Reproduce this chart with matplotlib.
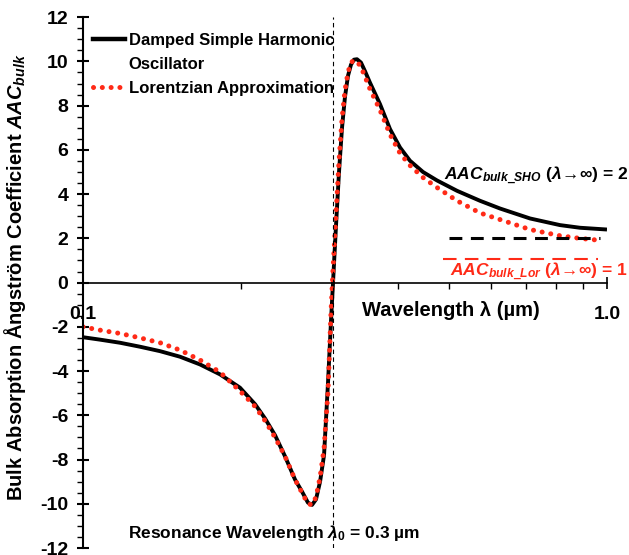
import matplotlib
matplotlib.use("Agg")
import matplotlib.pyplot as plt
from matplotlib.lines import Line2D
from matplotlib.ticker import FixedLocator, FixedFormatter, MultipleLocator, NullFormatter

plt.rcParams['font.family'] = ['Liberation Sans', 'DejaVu Sans']
plt.rcParams['font.weight'] = 'bold'
plt.rcParams['axes.labelweight'] = 'bold'
plt.rcParams['mathtext.fontset'] = 'custom'
plt.rcParams['mathtext.it'] = 'Liberation Sans:bold:italic'
plt.rcParams['mathtext.rm'] = 'Liberation Sans:bold'
plt.rcParams['mathtext.bf'] = 'Liberation Sans:bold'

# damped simple harmonic oscillator
lam_sho = [0.1000, 0.1078, 0.1177, 0.1285, 0.1403, 0.1531, 0.1672, 0.1826, 0.1993, 0.2130,
           0.2226, 0.2325, 0.2429, 0.2538, 0.2618, 0.2687, 0.2736, 0.2784, 0.2834, 0.2884,
           0.2935, 0.2974, 0.3000, 0.3040, 0.3080, 0.3121, 0.3162, 0.3204, 0.3246, 0.3289,
           0.3333, 0.3392, 0.3454, 0.3529, 0.3688, 0.3854, 0.4027, 0.4207, 0.4456, 0.4737,
           0.5174, 0.5723, 0.6250, 0.7131, 0.8134, 0.8881, 1.0000]
aac_sho = [-2.47, -2.58, -2.72, -2.9, -3.1, -3.35, -3.7, -4.15, -4.75, -5.5,
           -6.15, -6.9, -7.85, -8.9, -9.45, -9.95, -10.05, -9.8, -9.0, -7.8,
           -4.5, -1.7, 0.0, 2.6, 5.0, 7.0, 8.4, 9.35, 9.85, 10.08,
           10.1, 9.95, 9.55, 9.04, 8.07, 6.94, 6.11, 5.51, 5.0, 4.62,
           4.15, 3.7, 3.35, 2.9, 2.6, 2.48, 2.4]

# lorentzian approximation
lam_lor = [0.1000, 0.1078, 0.1177, 0.1285, 0.1403, 0.1531, 0.1672, 0.1826, 0.1993, 0.2130,
           0.2226, 0.2325, 0.2429, 0.2538, 0.2618, 0.2687, 0.2736, 0.2784, 0.2834, 0.2884,
           0.2935, 0.2974, 0.3000, 0.3040, 0.3080, 0.3121, 0.3162, 0.3204, 0.3246, 0.3289,
           0.3333, 0.3392, 0.3454, 0.3529, 0.3688, 0.3854, 0.4027, 0.4207, 0.4456, 0.4737,
           0.5174, 0.5723, 0.6250, 0.7131, 0.8134, 0.8881, 0.9612]
aac_lor = [-2.0, -2.15, -2.3, -2.5, -2.72, -3.05, -3.5, -4.05, -4.9, -5.6,
           -6.25, -7.0, -7.85, -8.9, -9.5, -10.0, -10.05, -9.7, -8.8, -7.5,
           -4.9, -1.3, 0.6, 3.1, 5.5, 7.4, 8.7, 9.5, 9.95, 10.05,
           10.0, 9.75, 9.3, 8.75, 7.8, 6.7, 5.85, 5.3, 4.75, 4.3,
           3.7, 3.15, 2.85, 2.4, 2.12, 2.0, 1.92]

lam0 = 0.3
sho_span = [0.5, 0.97]
lor_span = [0.487, 0.96]
sho_limit = 2
lor_limit = 1.07

red = '#ff2a17'
dots = (0, (0.01, 1.75))

fig = plt.figure(figsize=(6.29, 5.55), dpi=100)
ax = fig.add_axes([0.132, 0.0126, 0.833, 0.9564])

ax.plot(lam_sho, aac_sho, color='black', lw=2.8, solid_capstyle='butt',
        solid_joinstyle='round')
ax.plot(lam_lor, aac_lor, color=red, lw=3.6, linestyle=dots, dash_capstyle='round')

ax.axvline(lam0, color='black', lw=0.8, linestyle=(0, (4, 3)))
ax.plot(sho_span, [sho_limit] * 2, color='black', lw=2.2, linestyle=(0, (4.2, 2.8)))
ax.plot(lor_span, [lor_limit] * 2, color=red, lw=1.5, linestyle=(0, (6.5, 4)))

ax.set_xscale('log')
ax.set_xlim(0.1, 1.0)
ax.set_ylim(-12, 12)

ax.spines['right'].set_visible(False)
ax.spines['top'].set_visible(False)
ax.spines['bottom'].set_position(('data', 0))
ax.spines['left'].set_linewidth(1.5)
ax.spines['bottom'].set_linewidth(1.2)

ax.xaxis.set_major_locator(FixedLocator([0.1, 1.0]))
ax.xaxis.set_major_formatter(FixedFormatter(['0.1', '1.0']))
ax.xaxis.set_minor_locator(FixedLocator([0.2, 0.3, 0.4, 0.5, 0.6, 0.7, 0.8, 0.9]))
ax.xaxis.set_minor_formatter(NullFormatter())
ax.tick_params(axis='x', which='major', direction='inout', length=8, width=1.2,
               pad=13, labelsize=14)
ax.tick_params(axis='x', which='minor', direction='out', length=4, width=1.0)

ax.yaxis.set_major_locator(MultipleLocator(2))
ax.yaxis.set_minor_locator(MultipleLocator(0.5))
ax.tick_params(axis='y', which='major', direction='inout', length=9, width=1.5,
               pad=6, labelsize=14)
ax.tick_params(axis='y', which='minor', direction='out', length=4, width=1.0)
ax.set_yticks(range(-12, 13, 2))
ax.set_yticklabels([str(v) for v in range(-12, 13, 2)])

ax.set_ylabel(r'Bulk Absorption Ångström Coefficient $AAC_{bulk}$', fontsize=14.5,
              fontweight='bold', labelpad=0)
ax.yaxis.set_label_coords(-0.105, 0.51)

handles = [Line2D([], [], color='black', lw=3.2),
           Line2D([], [], color='none'),
           Line2D([], [], color=red, lw=3.6, linestyle=dots, dash_capstyle='round')]
labels = ['Damped Simple Harmonic', 'Oscillator', 'Lorentzian Approximation']
ax.legend(handles, labels, loc='upper left', bbox_to_anchor=(0.0, 0.99),
          frameon=False, fontsize=12, handlelength=1.9, handletextpad=0.25,
          labelspacing=0.55, borderaxespad=0.2)

ax.text(0.702, 0.448, 'Wavelength λ (µm)', transform=ax.transAxes,
        ha='center', va='center', fontsize=14.5)
ax.text(1.04, 0.702, r'$AAC_{bulk\_SHO}$ ($\lambda\!\rightarrow\!$∞) = 2',
        transform=ax.transAxes, ha='right', va='center', fontsize=12.5)
ax.text(1.04, 0.52, r'$AAC_{bulk\_Lor}$ ($\lambda\!\rightarrow\!$∞) = 1',
        transform=ax.transAxes, ha='right', va='center', fontsize=12.5, color=red)
ax.text(0.365, 0.029, r'Resonance Wavelength $\lambda_0$ = 0.3 µm',
        transform=ax.transAxes, ha='center', va='center', fontsize=12.5)

fig.savefig('out.png', dpi=100)
